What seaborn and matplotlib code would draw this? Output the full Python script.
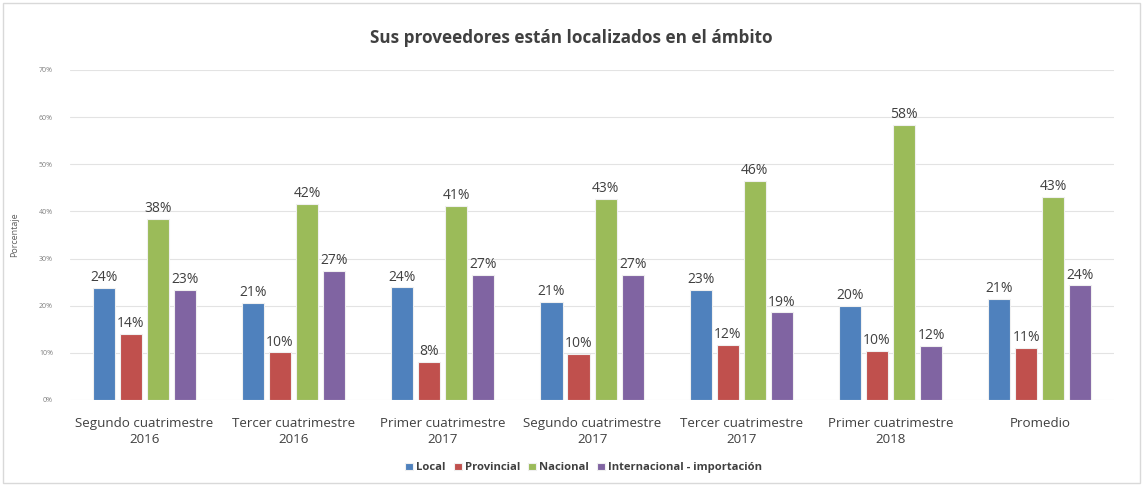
import numpy as np
import pandas as pd
import matplotlib.pyplot as plt
import seaborn as sns
from matplotlib.patches import Rectangle

categories = [
    "Segundo cuatrimestre\n2016",
    "Tercer cuatrimestre\n2016",
    "Primer cuatrimestre\n2017",
    "Segundo cuatrimestre\n2017",
    "Tercer cuatrimestre\n2017",
    "Primer cuatrimestre\n2018",
    "Promedio",
]
series = ["Local", "Provincial", "Nacional", "Internacional - importación"]
local = [23.8, 20.6, 23.9, 20.8, 23.3, 19.9, 21.4]
provincial = [14.0, 10.1, 8.1, 9.8, 11.7, 10.4, 11.0]
nacional = [38.4, 41.6, 41.2, 42.6, 46.5, 58.3, 43.1]
internacional = [23.4, 27.4, 26.6, 26.6, 18.6, 11.5, 24.3]
colors = ["#4F81BD", "#C0504D", "#9BBB59", "#8064A2"]

rows = []
for name, vals in zip(series, [local, provincial, nacional, internacional]):
    for cat, v in zip(categories, vals):
        rows.append({"cat": cat, "serie": name, "valor": v / 100})
df = pd.DataFrame(rows)

sns.set_style("white")
plt.rcParams["font.family"] = ["Open Sans", "DejaVu Sans"]

fig = plt.figure(figsize=(11.43, 4.86), dpi=100)
ax = fig.add_axes([0.061, 0.177, 0.914, 0.679])

sns.barplot(data=df, x="cat", y="valor", hue="serie", order=categories,
            hue_order=series, palette=colors, saturation=1, width=0.725, gap=0.18,
            edgecolor="#f0f0f0", linewidth=0.8, ax=ax, legend=True)

for cont in ax.containers:
    labels = [f"{b.get_height() * 100:.0f}%" for b in cont]
    ax.bar_label(cont, labels=labels, padding=2, fontsize=10, color="#404040")

ax.set_ylim(0, 0.7)
ax.set_xlim(-0.5, 6.5)
ax.set_yticks(np.arange(0, 0.71, 0.1))
ax.set_yticklabels([f"{int(t * 100)}%" for t in np.arange(0, 0.71, 0.1)],
                   fontsize=5, color="#808080")
ax.tick_params(axis="x", labelsize=9.6, labelcolor="#404040", length=0, pad=12)
for t in ax.get_xticklabels():
    t.set_linespacing(1.35)
ax.tick_params(axis="y", length=0, pad=12)
ax.yaxis.grid(True, color="#e3e3e3", linewidth=0.8)
ax.set_axisbelow(True)
for s in ax.spines.values():
    s.set_visible(False)
ax.set_xlabel("")
ax.set_ylabel("Porcentaje", fontsize=6.5, color="#606060", labelpad=14)

ax.legend(loc="center", bbox_to_anchor=(0.492, -0.206), ncol=4,
          frameon=False, handlelength=0.7, handleheight=0.7, handletextpad=0.3,
          columnspacing=0.7, prop={"weight": "bold", "size": 8.1}, labelcolor="#404040")

fig.text(0.5, 0.922, "Sus proveedores están localizados en el ámbito",
         ha="center", va="center", fontsize=12.3, fontweight="bold", color="#404040")

fig.patches.append(Rectangle((0.003, 0.006), 0.994, 0.988, transform=fig.transFigure,
                             fill=False, edgecolor="#d9d9d9", linewidth=1))

fig.savefig("out.png", dpi=100)
